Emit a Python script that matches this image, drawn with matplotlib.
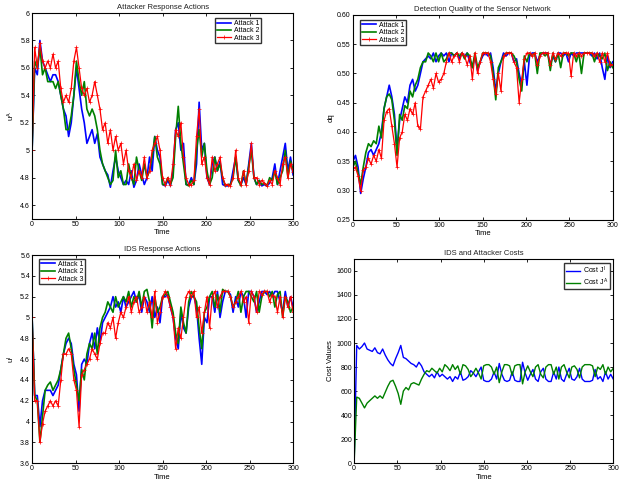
import numpy as np
import matplotlib
matplotlib.use("Agg")
import matplotlib.pyplot as plt

## Time axis (sampled every 3 steps)
time = np.arange(0, 301, 3)

## Attacker response actions u^A
uA_attack1 = [5.0, 5.6, 5.55, 5.8, 5.65, 5.6, 5.55, 5.5, 5.55, 5.55, 5.5, 5.4, 5.3, 5.25, 5.1, 5.2, 5.4,
              5.6, 5.45, 5.3, 5.2, 5.05, 5.1, 5.15, 5.05, 5.12, 4.95, 4.9, 4.85, 4.82, 4.73, 4.85, 4.95,
              4.85, 4.8, 4.75, 4.78, 4.75, 4.85, 4.73, 4.78, 4.9, 4.82, 4.75, 4.8, 4.95, 4.85, 5.1, 5.0,
              4.95, 4.75, 4.74, 4.78, 4.74, 4.85, 5.15, 5.2, 5.0, 5.05, 4.75, 4.75, 4.8, 4.75, 4.9, 5.35,
              5.0, 5.05, 4.8, 4.75, 4.9, 4.95, 4.85, 4.92, 4.75, 4.74, 4.74, 4.75, 4.85, 4.95, 4.78, 4.75,
              4.8, 4.75, 4.9, 5.05, 4.8, 4.75, 4.78, 4.74, 4.75, 4.74, 4.76, 4.8, 4.9, 4.75, 4.85, 4.95,
              5.05, 4.85, 4.95, 4.82]
uA_attack2 = [5.0, 5.65, 5.6, 5.75, 5.55, 5.6, 5.5, 5.5, 5.5, 5.45, 5.5, 5.4, 5.3, 5.15, 5.15, 5.25, 5.4,
              5.65, 5.5, 5.4, 5.5, 5.3, 5.25, 5.3, 5.25, 5.15, 5.0, 4.9, 4.85, 4.8, 4.75, 4.78, 5.0,
              4.8, 4.85, 4.75, 4.75, 4.9, 4.8, 4.75, 4.95, 4.85, 4.78, 4.9, 4.8, 4.85, 4.95, 5.1, 4.95,
              4.9, 4.75, 4.75, 4.8, 4.75, 4.8, 5.1, 5.32, 5.05, 4.9, 4.75, 4.74, 4.78, 4.75, 5.0, 5.15,
              4.95, 5.05, 4.85, 4.75, 4.8, 4.95, 4.85, 4.9, 4.8, 4.74, 4.75, 4.75, 4.8, 4.95, 4.78, 4.74,
              4.85, 4.75, 4.88, 5.0, 4.8, 4.75, 4.78, 4.75, 4.76, 4.74, 4.8, 4.78, 4.85, 4.75, 4.8, 4.85,
              5.0, 4.8, 4.92, 4.85]
uA_attack3 = [5.0, 5.75, 5.6, 5.78, 5.65, 5.6, 5.65, 5.6, 5.7, 5.6, 5.65, 5.45, 5.35, 5.4, 5.35, 5.45, 5.65,
              5.75, 5.6, 5.45, 5.4, 5.45, 5.35, 5.4, 5.5, 5.4, 5.3, 5.15, 5.2, 5.05, 5.15, 5.0, 5.1,
              5.0, 5.05, 4.9, 5.0, 4.85, 4.8, 4.9, 4.78, 4.85, 4.8, 4.95, 4.8, 4.85, 5.0, 5.05, 5.1,
              5.0, 4.8, 4.75, 4.8, 4.75, 4.9, 5.15, 5.1, 5.2, 4.95, 4.8, 4.75, 4.75, 4.78, 5.1, 5.3,
              4.9, 4.95, 4.8, 4.75, 4.95, 4.85, 4.9, 4.95, 4.8, 4.75, 4.75, 4.74, 4.8, 5.0, 4.8, 4.75,
              4.85, 4.75, 4.85, 5.05, 4.8, 4.8, 4.75, 4.78, 4.76, 4.74, 4.78, 4.75, 4.85, 4.8, 4.75, 4.9,
              4.95, 4.8, 4.9, 4.84]

## Detection quality dq
dq_attack1 = [0.35, 0.36, 0.34, 0.295, 0.32, 0.34, 0.365, 0.37, 0.36, 0.37, 0.38, 0.40, 0.44, 0.46, 0.48,
              0.46, 0.43, 0.37, 0.42, 0.44, 0.46, 0.45, 0.48, 0.49, 0.47, 0.48, 0.50, 0.52, 0.525, 0.53,
              0.525, 0.535, 0.52, 0.53, 0.535, 0.53, 0.535, 0.52, 0.535, 0.53, 0.535, 0.525, 0.535, 0.53,
              0.535, 0.52, 0.51, 0.53, 0.505, 0.52, 0.53, 0.535, 0.53, 0.535, 0.51, 0.47, 0.50, 0.52,
              0.535, 0.53, 0.535, 0.535, 0.52, 0.525, 0.50, 0.48, 0.52, 0.48, 0.53, 0.535, 0.535, 0.52,
              0.53, 0.535, 0.535, 0.535, 0.515, 0.53, 0.52, 0.535, 0.535, 0.53, 0.535, 0.52, 0.535, 0.53,
              0.535, 0.535, 0.535, 0.535, 0.535, 0.535, 0.53, 0.535, 0.525, 0.535, 0.51, 0.49, 0.53, 0.51,
              0.52]
dq_attack2 = [0.34, 0.35, 0.33, 0.31, 0.34, 0.365, 0.38, 0.375, 0.385, 0.38, 0.41, 0.39, 0.44, 0.46, 0.465,
              0.455, 0.42, 0.36, 0.43, 0.42, 0.445, 0.44, 0.47, 0.46, 0.48, 0.49, 0.51, 0.52, 0.52, 0.535,
              0.53, 0.52, 0.535, 0.52, 0.535, 0.52, 0.525, 0.535, 0.535, 0.53, 0.535, 0.53, 0.535, 0.525,
              0.535, 0.53, 0.51, 0.535, 0.51, 0.52, 0.535, 0.535, 0.535, 0.53, 0.50, 0.455, 0.51, 0.52,
              0.53, 0.535, 0.535, 0.535, 0.53, 0.52, 0.49, 0.47, 0.53, 0.52, 0.535, 0.53, 0.535, 0.50,
              0.535, 0.535, 0.53, 0.535, 0.505, 0.535, 0.52, 0.535, 0.51, 0.535, 0.535, 0.53, 0.535, 0.535,
              0.52, 0.535, 0.50, 0.535, 0.535, 0.535, 0.535, 0.52, 0.535, 0.53, 0.525, 0.535, 0.505, 0.52,
              0.51]
dq_attack3 = [0.335, 0.34, 0.325, 0.30, 0.335, 0.34, 0.355, 0.345, 0.36, 0.35, 0.37, 0.355, 0.42, 0.435,
              0.44, 0.41, 0.38, 0.34, 0.39, 0.40, 0.43, 0.42, 0.44, 0.43, 0.45, 0.41, 0.405, 0.46, 0.47,
              0.48, 0.49, 0.475, 0.50, 0.485, 0.49, 0.50, 0.52, 0.535, 0.52, 0.53, 0.535, 0.52, 0.535,
              0.53, 0.515, 0.53, 0.49, 0.535, 0.50, 0.52, 0.535, 0.535, 0.535, 0.52, 0.49, 0.465, 0.50,
              0.47, 0.53, 0.535, 0.535, 0.535, 0.52, 0.51, 0.45, 0.49, 0.525, 0.535, 0.535, 0.53, 0.535,
              0.515, 0.53, 0.535, 0.535, 0.535, 0.515, 0.535, 0.525, 0.535, 0.53, 0.535, 0.535, 0.535,
              0.495, 0.535, 0.53, 0.535, 0.53, 0.535, 0.535, 0.535, 0.535, 0.53, 0.535, 0.52, 0.535, 0.52,
              0.535, 0.515, 0.515]

## IDS response actions u^I
uI_attack1 = [5.0, 4.25, 4.25, 3.95, 4.2, 4.3, 4.3, 4.3, 4.25, 4.3, 4.35, 4.5, 4.65, 4.75, 4.8, 4.75, 4.55,
              4.45, 4.1, 4.55, 4.6, 4.55, 4.75, 4.85, 4.7, 4.9, 4.75, 4.95, 5.0, 5.05, 5.1, 5.2, 5.1,
              5.15, 5.05, 5.2, 5.1, 5.15, 5.2, 5.25, 5.15, 5.22, 5.05, 5.2, 5.15, 5.05, 5.2, 5.0, 5.1,
              4.95, 5.2, 5.2, 5.22, 5.1, 5.0, 4.8, 4.7, 5.05, 4.9, 4.85, 5.1, 5.2, 5.2, 5.1, 4.8, 4.55,
              5.0, 4.95, 5.2, 5.2, 5.05, 5.25, 5.0, 5.15, 5.25, 5.25, 5.22, 5.05, 5.2, 5.1, 5.25, 5.2,
              5.0, 5.25, 5.25, 5.2, 5.05, 5.15, 5.25, 5.25, 5.22, 5.25, 5.2, 5.25, 5.25, 5.15, 5.05, 5.25,
              5.1, 5.2, 5.1]
uI_attack2 = [5.0, 4.25, 4.2, 3.8, 4.05, 4.3, 4.35, 4.38, 4.3, 4.35, 4.4, 4.5, 4.65, 4.8, 4.85, 4.7, 4.5,
              4.35, 4.2, 4.5, 4.4, 4.65, 4.75, 4.7, 4.85, 4.65, 4.9, 5.0, 5.05, 5.15, 5.1, 5.05, 5.2,
              5.1, 5.15, 5.2, 5.15, 5.25, 5.1, 5.2, 5.15, 5.25, 5.1, 5.25, 5.27, 5.15, 4.9, 5.2, 5.05,
              5.1, 5.2, 5.22, 5.25, 5.15, 5.05, 4.85, 4.75, 5.1, 4.95, 4.85, 5.15, 5.25, 5.2, 5.15, 4.9,
              4.7, 5.05, 5.1, 5.2, 5.25, 5.1, 5.22, 5.05, 5.27, 5.25, 5.25, 5.2, 5.1, 5.15, 5.25, 5.05,
              5.2, 5.25, 5.25, 5.2, 5.15, 5.25, 5.05, 5.2, 5.25, 5.25, 5.2, 5.25, 5.1, 5.22, 5.25, 5.0,
              5.2, 5.15, 5.05, 5.1]
uI_attack3 = [5.0, 4.2, 4.2, 3.8, 3.98, 4.1, 4.15, 4.2, 4.15, 4.2, 4.15, 4.4, 4.65, 4.65, 4.7, 4.65, 4.4,
              4.3, 3.95, 4.45, 4.5, 4.55, 4.6, 4.7, 4.65, 4.6, 4.75, 4.85, 4.85, 4.95, 4.9, 5.0, 4.8,
              4.95, 5.05, 5.0, 5.1, 5.2, 5.05, 5.15, 5.2, 5.05, 5.1, 5.2, 5.05, 5.15, 5.0, 5.25, 4.95,
              5.05, 5.2, 5.25, 5.2, 5.1, 5.0, 4.7, 4.9, 4.8, 5.0, 5.2, 5.25, 5.2, 5.25, 5.0, 5.1, 4.85,
              5.05, 5.2, 4.9, 5.2, 5.25, 5.1, 5.2, 5.25, 5.25, 5.25, 5.2, 5.1, 5.15, 5.2, 5.25, 5.15,
              5.2, 4.95, 5.25, 5.2, 5.05, 5.25, 5.22, 5.25, 5.25, 5.15, 5.22, 5.2, 5.05, 5.2, 5.0, 5.2,
              5.1, 5.2, 5.05]

## IDS and attacker costs
cost_JI = [0, 980, 950, 970, 1000, 950, 940, 930, 960, 920, 910, 950, 900, 860, 830, 810, 870, 920, 980,
           880, 870, 850, 830, 820, 800, 840, 810, 760, 740, 720, 740, 710, 760, 720, 740, 720, 700, 720,
           680, 720, 700, 760, 690, 700, 720, 770, 750, 720, 760, 800, 690, 680, 680, 700, 760, 700, 830,
           740, 690, 680, 690, 760, 690, 680, 680, 840, 750, 690, 740, 780, 700, 680, 760, 790, 700, 680,
           680, 760, 700, 800, 700, 680, 740, 790, 700, 690, 720, 790, 700, 680, 680, 680, 690, 780, 700,
           720, 680, 760, 700, 740, 700]
cost_JA = [0, 550, 540, 500, 460, 500, 520, 540, 560, 540, 560, 540, 590, 640, 680, 690, 640, 580, 490,
           600, 630, 610, 660, 670, 660, 650, 700, 740, 770, 760, 790, 770, 750, 790, 760, 820, 800, 770,
           820, 780, 810, 740, 820, 810, 780, 720, 750, 790, 750, 700, 810, 820, 820, 800, 740, 800, 670,
           760, 820, 820, 810, 730, 810, 820, 820, 660, 760, 810, 760, 720, 800, 820, 740, 710, 800, 820,
           820, 740, 800, 700, 800, 820, 760, 710, 800, 810, 780, 710, 800, 820, 820, 820, 810, 720, 800,
           780, 820, 740, 800, 760, 790]

attack_labels = ['Attack 1', 'Attack 2', 'Attack 3']
cost_labels = ['Cost $J^I$', 'Cost $J^A$']

BLUE = (0, 0, 1)
GREEN = (0, 0.5, 0)
RED = (1, 0, 0)

plt.rcParams['font.family'] = ['Liberation Sans', 'DejaVu Sans']
plt.rcParams['font.size'] = 5
plt.rcParams['mathtext.fontset'] = 'custom'
plt.rcParams['mathtext.rm'] = 'Liberation Sans'
plt.rcParams['mathtext.it'] = 'Liberation Sans'


def style_axes(ax, title, ylabel, ylim, yticks):
    ax.set_title(title, fontsize=5.5, pad=3, color='#222222')
    ax.set_xlabel('Time', fontsize=5.5, labelpad=1)
    ax.set_ylabel(ylabel, fontsize=5.5, labelpad=2)
    ax.set_xlim(0, 300)
    ax.set_xticks([0, 50, 100, 150, 200, 250, 300])
    ax.set_ylim(*ylim)
    ax.set_yticks(yticks)
    ax.tick_params(direction='in', top=True, right=True, length=2.5, width=0.6,
                   labelsize=5, pad=1.5)
    for sp in ax.spines.values():
        sp.set_linewidth(0.8)


def attack_plot(ax, s1, s2, s3):
    ax.plot(time, s1, color=BLUE, lw=1.2, label=attack_labels[0])
    ax.plot(time, s2, color=GREEN, lw=1.2, label=attack_labels[1])
    ax.plot(time, s3, color=RED, lw=0.9, marker='+', ms=2.2, mew=0.5, label=attack_labels[2])


def legend(ax, loc, anchor):
    leg = ax.legend(loc=loc, bbox_to_anchor=anchor, fontsize=5, frameon=True, fancybox=False,
                    handlelength=2.0, borderpad=0.25, labelspacing=0.05, handletextpad=0.4,
                    borderaxespad=0.3)
    leg.get_frame().set_edgecolor('black')
    leg.get_frame().set_linewidth(1.0)


fig = plt.figure(figsize=(6.29, 4.83), dpi=100)
ax1 = fig.add_axes([0.051, 0.547, 0.415, 0.426])
ax2 = fig.add_axes([0.561, 0.545, 0.413, 0.424])
ax3 = fig.add_axes([0.051, 0.041, 0.415, 0.431])
ax4 = fig.add_axes([0.563, 0.041, 0.412, 0.423])

attack_plot(ax1, uA_attack1, uA_attack2, uA_attack3)
style_axes(ax1, 'Attacker Response Actions', '$u^A$', (4.5, 6.0),
           [4.6, 4.8, 5.0, 5.2, 5.4, 5.6, 5.8, 6.0])
ax1.set_yticklabels(['4.6', '4.8', '5', '5.2', '5.4', '5.6', '5.8', '6'])
legend(ax1, 'upper right', (0.885, 0.985))

attack_plot(ax2, dq_attack1, dq_attack2, dq_attack3)
style_axes(ax2, 'Detection Quality of the Sensor Network', 'dq', (0.25, 0.6),
           [0.25, 0.3, 0.35, 0.4, 0.45, 0.5, 0.55, 0.6])
legend(ax2, 'upper left', (0.02, 0.985))

attack_plot(ax3, uI_attack1, uI_attack2, uI_attack3)
style_axes(ax3, 'IDS Response Actions', '$u^I$', (3.6, 5.6),
           [3.6, 3.8, 4.0, 4.2, 4.4, 4.6, 4.8, 5.0, 5.2, 5.4, 5.6])
ax3.set_yticklabels(['3.6', '3.8', '4', '4.2', '4.4', '4.6', '4.8', '5', '5.2', '5.4', '5.6'])
legend(ax3, 'upper left', (0.02, 0.99))

ax4.plot(time, cost_JI, color=BLUE, lw=1.0, label=cost_labels[0])
ax4.plot(time, cost_JA, color=GREEN, lw=1.0, label=cost_labels[1])
style_axes(ax4, 'IDS and Attacker Costs', 'Cost Values', (0, 1700),
           [0, 200, 400, 600, 800, 1000, 1200, 1400, 1600])
legend(ax4, 'upper right', (0.995, 0.99))

fig.savefig('out.png', dpi=100)
